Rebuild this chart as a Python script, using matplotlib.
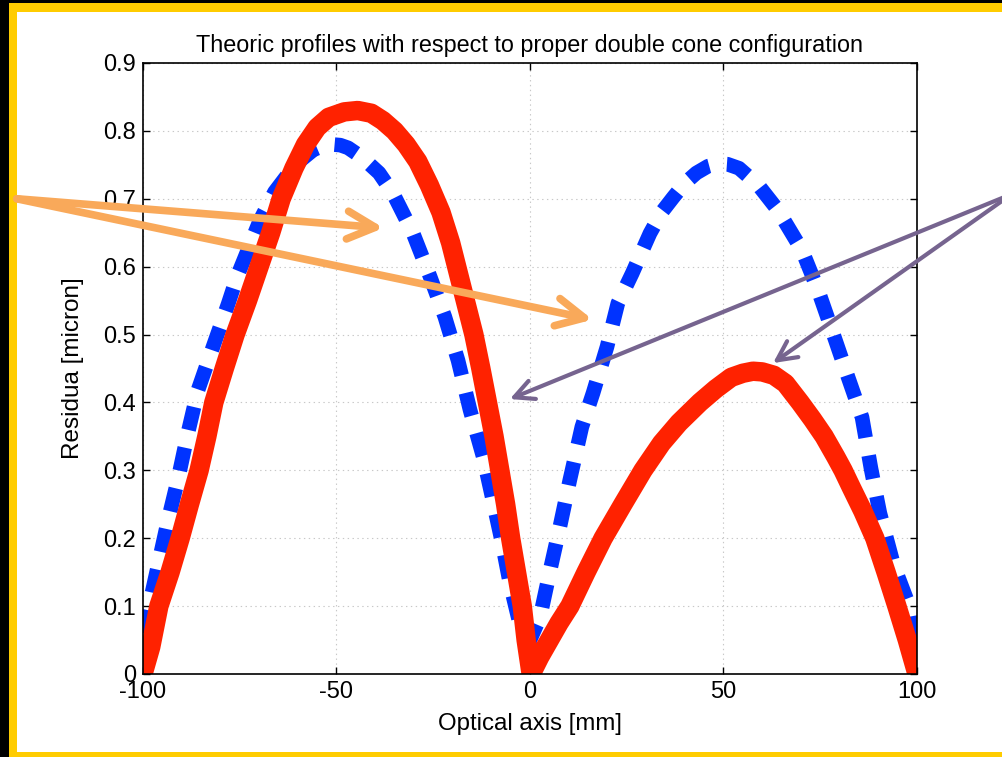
import matplotlib
matplotlib.use("Agg")
import matplotlib.pyplot as plt
from matplotlib.patches import Rectangle

plt.rcParams['font.family'] = ['Liberation Sans', 'DejaVu Sans']
plt.rcParams['lines.scale_dashes'] = False

# ---- data ----
red_x = [-100, -98, -95.9, -93, -90.4, -88, -85.5, -83.5, -81.7, -79, -76.2, -73, -70, -67,
         -64.3, -61, -58, -55, -52, -48, -44.5, -41, -38, -35, -32, -29, -26, -23, -20.5,
         -18.5, -16.5, -14.5, -12.7, -11, -9.3, -7.8, -6.3, -5, -3.5, -2, -1, 0.3,
         2.5, 5, 7.5, 10.3, 14.5, 18.9, 24, 29.2, 34, 38.5, 43.9, 48, 52, 55, 57.6,
         60, 63, 66, 69.8, 73, 76, 79, 80.9, 83, 86, 89.1, 92, 94.8, 97.5, 100]
red_y = [0.0, 0.04, 0.1, 0.15, 0.2, 0.25, 0.3, 0.35, 0.4, 0.45, 0.5, 0.55, 0.6, 0.65,
         0.7, 0.745, 0.78, 0.805, 0.82, 0.828, 0.83, 0.826, 0.815, 0.8, 0.78, 0.755, 0.72, 0.68, 0.635,
         0.59, 0.545, 0.5, 0.45, 0.4, 0.35, 0.3, 0.25, 0.2, 0.15, 0.1, 0.05, 0.0,
         0.025, 0.05, 0.075, 0.1, 0.15, 0.2, 0.25, 0.3, 0.34, 0.37, 0.4, 0.42, 0.437, 0.443, 0.446,
         0.445, 0.44, 0.428, 0.4, 0.375, 0.35, 0.32, 0.3, 0.275, 0.24, 0.2, 0.15, 0.1, 0.05, 0.0]

blue_x = [-100, -93.5, -91, -88.4, -85.8, -81.9, -78, -75.7, -69.8, -66, -62, -59, -56, -53.5, -51, -49,
          -47, -43.4, -39, -35.4, -30.2, -25.8, -22, -18.6, -15.5, -12.1, -9.8, -7.2, -5.2, -2.5, 0,
          2.6, 5.2, 7.8, 10.3, 13.4, 16.3, 19.9, 22.7, 26.4, 31, 34, 37, 40, 43, 46, 48.6, 51, 54,
          59, 64.1, 70.3, 74.4, 78.3, 82.2, 85.8, 88.1, 90.4, 94, 97.4, 100]
blue_y = [0.06, 0.227, 0.286, 0.355, 0.418, 0.482, 0.545, 0.585, 0.668, 0.71, 0.74, 0.758, 0.772, 0.778, 0.78, 0.779,
          0.775, 0.761, 0.738, 0.708, 0.649, 0.585, 0.526, 0.462, 0.389, 0.32, 0.261, 0.193, 0.134, 0.07, 0.05,
          0.084, 0.153, 0.219, 0.286, 0.364, 0.414, 0.482, 0.546, 0.59, 0.649, 0.68, 0.702, 0.723, 0.738, 0.748, 0.752, 0.751, 0.745,
          0.72, 0.683, 0.624, 0.566, 0.502, 0.437, 0.378, 0.303, 0.237, 0.16, 0.109, 0.03]

x_ticks = [-100, -50, 0, 50, 100]
y_ticks = [0, 0.1, 0.2, 0.3, 0.4, 0.5, 0.6, 0.7, 0.8, 0.9]
y_tick_labels = ['0', '0.1', '0.2', '0.3', '0.4', '0.5', '0.6', '0.7', '0.8', '0.9']

# arrow annotations: (tail, tip) in data coordinates
orange_arrows = [((-132.6, 0.700), (-37.8, 0.657)), ((-132.6, 0.700), (16.2, 0.522))]
purple_arrows = [((124.5, 0.707), (-5.2, 0.405)), ((124.5, 0.707), (62.8, 0.458))]

title = 'Theoric profiles with respect to proper double cone configuration'
xlabel = 'Optical axis [mm]'
ylabel = 'Residua [micron]'

W, H = 1003, 757
fig = plt.figure(figsize=(W / 100, H / 100), dpi=100)
fig.patch.set_facecolor('black')
# yellow frame and white inner panel (pixel coordinates)
fig.patches.append(Rectangle((9, -10), W + 20, H - 3 + 10, transform=None,
                             facecolor='#FFCC00', edgecolor='none', zorder=-2))
fig.patches.append(Rectangle((17, 5), W + 20, H - 12 - 5, transform=None,
                             facecolor='white', edgecolor='none', zorder=-1))

ax = fig.add_axes([143 / W, 83 / H, (917 - 143) / W, (694 - 83) / H])
ax.set_facecolor('white')

ax.plot(blue_x, blue_y, color='#0033FF', lw=10.5, dashes=(17, 13),
        dash_capstyle='butt', dash_joinstyle='round', zorder=3)
ax.plot(red_x, red_y, color='#FF2200', lw=14, solid_joinstyle='round',
        solid_capstyle='butt', zorder=4)

ax.set_xlim(-100, 100)
ax.set_ylim(0, 0.9)
ax.set_xticks(x_ticks)
ax.set_xticklabels([str(t) for t in x_ticks])
ax.set_yticks(y_ticks)
ax.set_yticklabels(y_tick_labels)
ax.grid(True, color='#c8c8c8', lw=0.8, linestyle=(0, (1, 2.5)))
ax.set_axisbelow(True)
ax.tick_params(direction='in', length=5, width=1, top=True, right=True,
               labelsize=17, pad=5, colors='black')
for s in ax.spines.values():
    s.set_linewidth(1.2)
    s.set_zorder(6)

ax.set_title(title, fontsize=16.8, pad=8)
ax.set_xlabel(xlabel, fontsize=17.3, labelpad=7)
ax.set_ylabel(ylabel, fontsize=17.5, labelpad=14)

for tail, tip in orange_arrows:
    ax.annotate('', xy=tip, xytext=tail, xycoords='data', textcoords='data',
                annotation_clip=False,
                arrowprops=dict(arrowstyle='->,head_length=20,head_width=10',
                                mutation_scale=1, color='#F9A95A', lw=5.5,
                                shrinkA=0, shrinkB=0, capstyle='round', joinstyle='round'),
                zorder=7)
for tail, tip in purple_arrows:
    ax.annotate('', xy=tip, xytext=tail, xycoords='data', textcoords='data',
                annotation_clip=False,
                arrowprops=dict(arrowstyle='->,head_length=14,head_width=7',
                                mutation_scale=1, color='#76648F', lw=3,
                                shrinkA=0, shrinkB=0, capstyle='round', joinstyle='round'),
                zorder=7)

fig.savefig('out.png', dpi=100, facecolor=fig.get_facecolor())
